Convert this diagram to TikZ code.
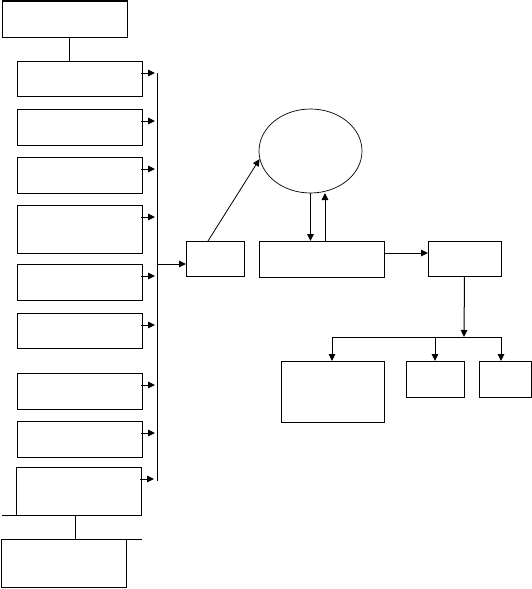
\documentclass[tikz,border=0pt]{standalone}
\usetikzlibrary{arrows.meta,calc,shapes.geometric}
\begin{document}
\begin{tikzpicture}[x=1pt,y=-1pt,
  box/.style={draw,line width=1pt,inner sep=0pt,outer sep=0pt,anchor=north west},
  ln/.style={line width=1pt},
  arr/.style={line width=1pt,-{Triangle[length=7pt,width=6.5pt]}}]
\useasboundingbox (0,0) rectangle (532,589);
% left column
\node[box,minimum width=125pt,minimum height=36pt] (top) at (2,1) {};
\node[box,minimum width=125pt,minimum height=35pt] (b1) at (17,61) {};
\node[box,minimum width=125pt,minimum height=36pt] (b2) at (17,109) {};
\node[box,minimum width=125pt,minimum height=36pt] (b3) at (17,157) {};
\node[box,minimum width=125pt,minimum height=48pt] (b4) at (17,205) {};
\node[box,minimum width=125pt,minimum height=36pt] (b5) at (17,264) {};
\node[box,minimum width=125pt,minimum height=35pt] (b6) at (17,313) {};
\node[box,minimum width=125pt,minimum height=36pt] (b7) at (17,373) {};
\node[box,minimum width=125pt,minimum height=36pt] (b8) at (17,421) {};
\node[box,minimum width=125pt,minimum height=48pt] (b9) at (16,467) {};
\node[box,minimum width=125pt,minimum height=48pt] (bot) at (1,539) {};
% bar
\coordinate (bartop) at (157,73);
\coordinate (barbot) at (157,481);
\draw[ln] (bartop) -- (barbot);
\coordinate (t1) at (69,37);
\draw[ln] (t1) -- (t1 |- b1.north);
\foreach \b in {b1,b2,b3,b4,b5,b6,b7,b8,b9}{
  \coordinate (s) at ($(\b.north east)+(-1,12)$);
  \coordinate (e) at ($(s)+(14,0)$);
  \draw[arr] (s) -- (e);
}
\coordinate (lstub) at (2,515);
\draw[ln] (lstub) -- (b9.south west);
\coordinate (v1) at (75,515);
\draw[ln] (v1) -- (v1 |- bot.north);
\draw[ln] (bot.north east) -- ++(16,0);
% right part
\node[box,minimum width=58pt,minimum height=35pt] (A) at (186,241) {};
\node[draw,ellipse,line width=0.7pt,inner sep=0pt,minimum width=103pt,minimum height=84pt] (ell) at (310.5,151) {};
\node[box,minimum width=125pt,minimum height=36pt] (B) at (259,241) {};
\node[box,minimum width=73pt,minimum height=35pt] (C) at (428,241) {};
\node[box,minimum width=103pt,minimum height=61pt] (D) at (281,361) {};
\node[box,minimum width=58pt,minimum height=36pt] (E) at (406,361) {};
\node[box,minimum width=52pt,minimum height=36pt] (F) at (479,361) {};
\coordinate (ain) at (157,264);
\draw[arr] (ain) -- (ain -| A.west);
\coordinate (aup) at (208,241);
\draw[line width=0.8pt,-{Triangle[length=7pt,width=6.5pt]}] (aup) -- (ell.189);
\draw[arr] (ell.south) -- (ell.south |- B.north);
\coordinate (up) at (325,193);
\draw[arr] (up |- B.north) -- (up);
\coordinate (bc) at (384,253);
\draw[arr] (bc) -- (bc -| C.west);
\coordinate (hub) at (464,337);
\draw[arr] (C.south) -- (hub);
\coordinate (hl) at (332,337);
\coordinate (hr) at (501,337);
\draw[ln] (hl) -- (hr);
\draw[arr] (hl) -- (hl |- D.north);
\draw[arr] (E.north |- hl) -- (E.north);
\draw[arr] (hr) -- (hr |- F.north);
\end{tikzpicture}
\end{document}
